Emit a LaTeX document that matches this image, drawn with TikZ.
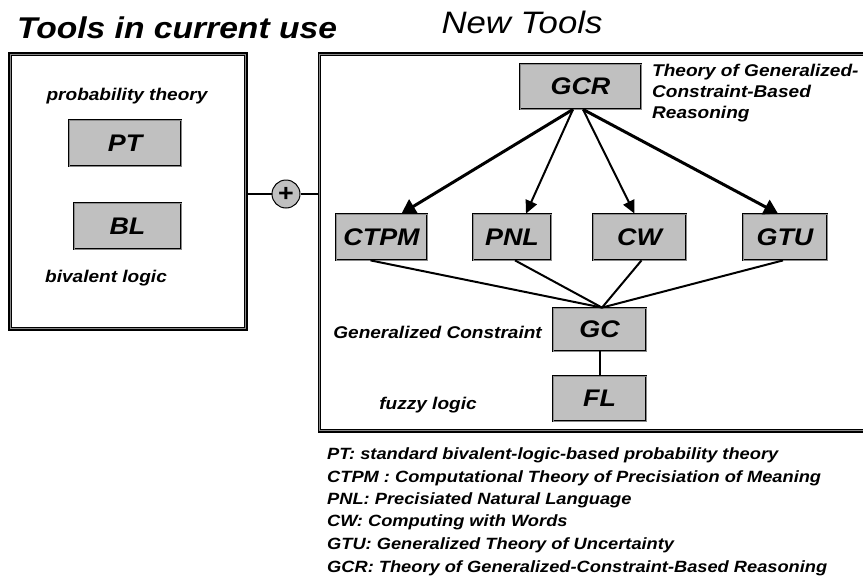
\documentclass[tikz,border=0pt]{standalone}
\usepackage{fontspec}
\setmainfont{Liberation Sans}[FakeStretch=1.12]
\usetikzlibrary{arrows.meta,calc}
\definecolor{boxgray}{HTML}{C0C0C0}
\definecolor{edgegray}{HTML}{8A8A8A}
\tikzset{
  tbox/.style={draw=black, line width=0.8pt, double=edgegray, double distance=0.9pt,
    fill=boxgray, inner sep=0pt, minimum height=46pt,
    font=\fontsize{24}{28}\selectfont\bfseries\itshape},
  bigbox/.style={draw=black, line width=2.6pt, inner sep=0pt},
  innergray/.style={draw=edgegray, line width=1pt},
  innerblack/.style={draw=black, line width=0.8pt},
  lbl/.style={font=\fontsize{17}{21}\selectfont\bfseries\itshape, inner sep=0pt},
  leg/.style={font=\fontsize{16.3}{20}\selectfont\bfseries\itshape, inner sep=0pt, anchor=base west},
  thickarr/.style={line width=3pt, -{Triangle[length=14pt,width=16pt]}},
  thinarr/.style={line width=2pt, -{Triangle[length=13pt,width=12pt]}},
  link/.style={line width=2pt},
}
\begin{document}
\begin{tikzpicture}[x=1pt,y=-1pt]
\useasboundingbox (0,0) rectangle (863,576);
% titles
\node[font=\fontsize{30}{34}\selectfont\bfseries\itshape, inner sep=0pt] (t1) at (177,28) {Tools in current use};
\node[font=\fontsize{31}{34}\selectfont\itshape, inner sep=0pt] (t2) at (522,22) {New Tools};
% big boxes
\node[bigbox, minimum width=237pt, minimum height=276pt] (lbox) at (128,191.5) {};
\node[bigbox, minimum width=560pt, minimum height=378pt] (rbox) at (599,242.5) {};
\foreach \b in {lbox,rbox}{
  \draw[innergray] ([shift={(2,2)}]\b.north west) rectangle ([shift={(-2,-2)}]\b.south east);
  \draw[innerblack] ([shift={(3,3)}]\b.north west) rectangle ([shift={(-3,-3)}]\b.south east);
}
% left contents
\node[lbl] (ptl) at (127,96) {probability theory};
\node[tbox, minimum width=112pt] (pt) at (125,143) {PT};
\node[tbox, minimum width=107pt] (bl) at (127.5,226) {BL};
\node[lbl, anchor=west] (bll) at (45,278) {bivalent logic};
% plus
\node[circle, draw=black, line width=1pt, fill=boxgray, minimum size=28pt, inner sep=0pt,
  font=\fontsize{24}{24}\selectfont\bfseries] (plus) at (286,194) {+};
\draw[line width=1.6pt] (plus.west) -- (plus.west -| lbox.east);
\draw[line width=1.6pt] (plus.east) -- (plus.east -| rbox.west);
% right contents
\node[tbox, minimum width=121pt, minimum height=45pt] (gcr) at (580.5,86.5) {GCR};
\node[lbl, anchor=north west, align=left, font=\fontsize{17}{21}\selectfont\bfseries\itshape] (gcrl) at (652,64) {Theory of Generalized-\\Constraint-Based\\Reasoning};
\node[tbox, minimum width=91pt] (ctpm) at (381.5,237) {CTPM};
\node[tbox, minimum width=78pt] (pnl) at (512,237) {PNL};
\node[tbox, minimum width=93pt] (cw) at (639.5,237) {CW};
\node[tbox, minimum width=84pt] (gtu) at (785,237) {GTU};
\node[tbox, minimum width=93pt, minimum height=43pt] (gc) at (599.5,329.5) {GC};
\node[tbox, minimum width=93pt, minimum height=45pt] (fl) at (599.5,398.5) {FL};
\node[lbl, anchor=east] (gcl) at (542,332) {Generalized Constraint};
\node[lbl] (fll) at (428,405) {fuzzy logic};
% arrows
\coordinate (g1) at ($(gcr.south)+(-7.5,0)$);
\coordinate (g2) at ($(gcr.south)+(2.5,0)$);
\draw[thickarr] (g1) -- ($(ctpm.north)+(20,0)$);
\draw[thinarr] (g1) -- ($(pnl.north)+(14,0)$);
\draw[thinarr] (g2) -- ($(cw.north)+(-5,0)$);
\draw[thickarr] (g2) -- ($(gtu.north)+(-7,0)$);
% links to GC
\coordinate (gct) at ($(gc.north)+(2.5,0)$);
\draw[link] ($(ctpm.south)+(-11,0)$) -- (gct);
\draw[link] ($(pnl.south)+(3,0)$) -- (gct);
\draw[link] ($(cw.south)+(2,0)$) -- (gct);
\draw[link] ($(gtu.south)+(-2,0)$) -- (gct);
\draw[link] (gc.south) -- (fl.north);
% legend
\node[leg] (l1) at (327,459) {PT: standard bivalent-logic-based probability theory};
\node[leg] (l2) at (327,482) {CTPM : Computational Theory of Precisiation of Meaning};
\node[leg] (l3) at (327,504) {PNL: Precisiated Natural Language};
\node[leg] (l4) at (327,526) {CW: Computing with Words};
\node[leg] (l5) at (327,549) {GTU: Generalized Theory of Uncertainty};
\node[leg] (l6) at (327,572) {GCR: Theory of Generalized-Constraint-Based Reasoning};
\end{tikzpicture}
\end{document}
